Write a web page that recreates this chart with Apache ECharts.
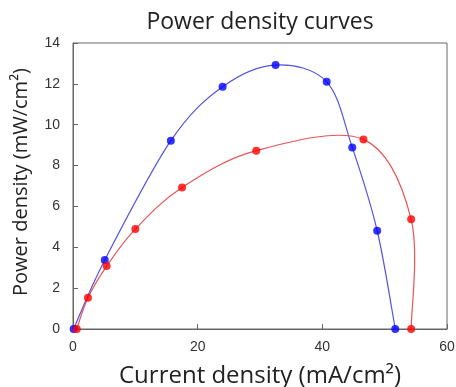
<!DOCTYPE html>
<html><head><meta charset="utf-8">
<script src="https://cdn.jsdelivr.net/npm/echarts@6/dist/echarts.min.js"></script>
<style>html,body{margin:0;padding:0;background:#fff}#c{width:456px;height:387px}</style>
</head><body><div id="c"></div>
<script>
const blueX = [0.1, 5.1, 15.7, 24.0, 32.5, 40.7, 44.8, 48.8, 51.7];
const blueY = [0, 3.38, 9.22, 11.86, 12.92, 12.1, 8.89, 4.81, 0];
const redX = [0.6, 2.4, 5.4, 10.0, 17.5, 29.4, 46.6, 54.25, 54.25];
const redY = [0, 1.53, 3.08, 4.89, 6.93, 8.73, 9.28, 5.37, 0];
const xTicks = [0, 20, 40, 60];
const yTicks = [0, 2, 4, 6, 8, 10, 12, 14];

const chart = echarts.init(document.getElementById('c'), null, {renderer: 'canvas'});
const zip = (a, b) => a.map((v, i) => [v, b[i]]);
const labelFont = {color: '#333', fontSize: 14, fontFamily: 'Liberation Sans, Arial, sans-serif'};
const nameFont = 'Open Sans, sans-serif';

// smoothed (Catmull-Rom style) curve through the data, drawn in pixel space via the axes
function splineSeries(xs, ys, color) {
  return {
    type: 'custom',
    data: zip(xs, ys),
    encode: {x: 0, y: 1},
    silent: true,
    z: 1,
    renderItem: function (params, api) {
      if (params.dataIndex !== 0) return;
      const p = xs.map((x, i) => api.coord([x, ys[i]]));
      const n = p.length;
      let d = 'M' + p[0][0] + ' ' + p[0][1];
      for (let i = 0; i < n - 1; i++) {
        const p0 = p[Math.max(i - 1, 0)], p1 = p[i], p2 = p[i + 1], p3 = p[Math.min(i + 2, n - 1)];
        const c1 = [p1[0] + (p2[0] - p0[0]) / 6, p1[1] + (p2[1] - p0[1]) / 6];
        const c2 = [p2[0] - (p3[0] - p1[0]) / 6, p2[1] - (p3[1] - p1[1]) / 6];
        d += ' C' + c1[0] + ' ' + c1[1] + ' ' + c2[0] + ' ' + c2[1] + ' ' + p2[0] + ' ' + p2[1];
      }
      return {type: 'path', shape: {pathData: d}, style: {stroke: color, fill: null, lineWidth: 1.2}};
    }
  };
}
function pointSeries(xs, ys, color) {
  return {type: 'scatter', data: zip(xs, ys), symbol: 'circle', symbolSize: 8, z: 3, itemStyle: {color: color}};
}

chart.setOption({
  animation: false,
  backgroundColor: '#fff',
  title: {
    text: 'Power density curves', left: 255, top: 6, textAlign: 'center',
    textStyle: {fontSize: 23, fontWeight: 'normal', color: '#222', fontFamily: nameFont}
  },
  grid: {left: 73, right: 9, top: 43, bottom: 58, show: true, borderColor: '#666', borderWidth: 1,
         containLabel: false, outerBoundsMode: 'none'},
  xAxis: {
    type: 'value', min: xTicks[0], max: xTicks[xTicks.length - 1], interval: 20,
    name: 'Current density (mA/cm²)', nameLocation: 'middle', nameGap: 35,
    nameTextStyle: {fontSize: 24, color: '#222', fontFamily: nameFont},
    axisLine: {lineStyle: {color: '#666'}},
    axisTick: {inside: true, length: 5, lineStyle: {color: '#666'}},
    axisLabel: Object.assign({margin: 11}, labelFont),
    splitLine: {show: false}
  },
  yAxis: {
    type: 'value', min: yTicks[0], max: yTicks[yTicks.length - 1], interval: 2,
    name: 'Power density (mW/cm²)', nameLocation: 'middle', nameGap: 42, nameRotate: 90,
    nameTextStyle: {fontSize: 20, color: '#222', fontFamily: nameFont, padding: [0, 0, 0, 8]},
    axisLine: {show: true, lineStyle: {color: '#666'}},
    axisTick: {show: true, inside: true, length: 5, lineStyle: {color: '#666'}},
    axisLabel: Object.assign({margin: 13}, labelFont),
    splitLine: {show: false}
  },
  series: [
    splineSeries(blueX, blueY, '#5555dd'),
    splineSeries(redX, redY, '#e85555'),
    pointSeries(blueX, blueY, '#0000ff'),
    pointSeries(redX, redY, '#ff0000')
  ]
});
</script></body></html>
